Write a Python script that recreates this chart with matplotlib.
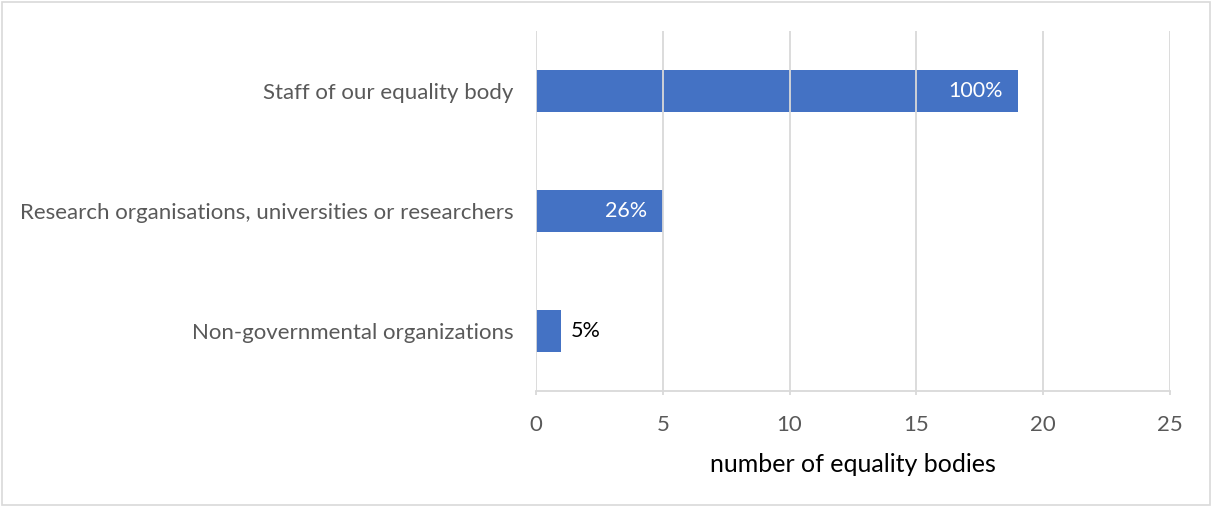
import numpy as np
import matplotlib.pyplot as plt
from matplotlib.patches import Rectangle

plt.rcParams['font.family'] = ['Lato', 'DejaVu Sans']

# data
categories = ["Staff of our equality body",
              "Research organisations, universities or researchers",
              "Non-governmental organizations"]
counts = [19, 5, 1]
shares = ["100%", "26%", "5%"]
x_ticks = [0, 5, 10, 15, 20, 25]

fig = plt.figure(figsize=(12.12, 5.07), dpi=100)
ax = fig.add_axes([0.4422, 0.2288, 0.5231, 0.7101])

y = np.arange(len(categories))
bars = ax.barh(y, counts, height=0.35, color='#4472C4', zorder=1)

ax.set_ylim(len(categories) - 0.5, -0.5)
ax.set_xlim(0, 25)
ax.set_xticks(x_ticks)
ax.set_yticks(y)
ax.set_yticklabels(categories)

# grid drawn over the bars, as in the original
ax.grid(axis='x', color='#D9D9D9', linewidth=1.3, zorder=3)
ax.set_axisbelow(False)
for s in ['top', 'right', 'left']:
    ax.spines[s].set_visible(False)
ax.spines['bottom'].set_color('#D9D9D9')
ax.spines['bottom'].set_linewidth(1.3)
ax.tick_params(axis='x', colors='#D9D9D9', length=3, width=1.3, labelcolor='#595959',
               labelsize=16, pad=14.5)
ax.tick_params(axis='y', length=0, labelcolor='#595959', labelsize=16, pad=16)
ax.set_xlabel("number of equality bodies", fontsize=18, color='black', labelpad=13)

# data labels
for b, v, lab in zip(bars, counts, shares):
    yc = b.get_y() + b.get_height() / 2
    if v >= 3:
        ax.annotate(lab, (v, yc), xytext=(-11, 0), textcoords='offset points',
                    ha='right', va='center', color='white', fontsize=15.5, zorder=4)
    else:
        ax.annotate(lab, (v, yc), xytext=(7, 0), textcoords='offset points',
                    ha='left', va='center', color='black', fontsize=15.5, zorder=4)

# light frame around the whole chart
fig.patches.append(Rectangle((0.002, 0.004), 0.996, 0.992, transform=fig.transFigure,
                             fill=False, edgecolor='#D9D9D9', linewidth=1.2))

fig.savefig('out.png', dpi=100)
